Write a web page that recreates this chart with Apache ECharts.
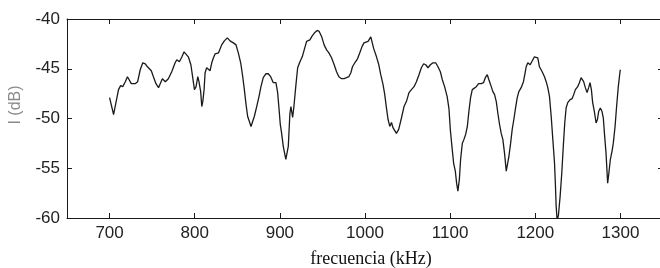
<!DOCTYPE html>
<html>
<head>
<meta charset="utf-8">
<script src="https://cdn.jsdelivr.net/npm/echarts@6/dist/echarts.min.js"></script>
<style>
  html, body { margin: 0; padding: 0; background: #fff; }
  #chart { width: 660px; height: 268px; }
</style>
</head>
<body>
<div id="chart"></div>
<script>
// frecuencia (kHz) y nivel (dB)
var freq = [
  700, 702, 704.7, 707, 710.5, 713, 715.5, 718.5, 721, 723, 725.5, 730, 733, 736, 739, 742, 744.5, 749,
  751.5, 754.5, 757.5, 760.5, 762, 765.5, 769, 773, 777, 779, 782, 785, 787.5, 789.5, 792.5, 795.5, 797.5,
  799.7, 801.6, 803.6, 805, 807, 808.3, 809.5, 811, 812.2, 814, 816, 818, 820, 822, 824, 826, 828, 830,
  831.7, 834.8, 838.3, 841.5, 845.4, 848.5, 851.2, 854, 856.4, 858.3, 860.3, 862.2, 864.2, 866.1, 868.1,
  870, 872.8, 875.5, 877.8, 880.5, 883.7, 886.4, 889.2, 892.3, 895.4, 897.4, 899, 900.5, 902.1, 904, 907,
  909.9, 911.8, 913, 915, 916.5, 918.9, 920.9, 923.6, 926.3, 928.6, 931.4, 933.3, 935.3, 938, 941.1, 943.8,
  946.2, 949, 952, 954.9, 957.6, 960.7, 963.8, 966.6, 969.3, 972.5, 975.5, 978.3, 981, 983.4, 985.3, 988,
  991.2, 993.9, 996.6, 998.8, 1001, 1003.6, 1006.8, 1008.8, 1010.3, 1013.5, 1016.2, 1018.5, 1021.2, 1023.2,
  1025.2, 1027.1, 1029.1, 1031.1, 1033, 1034.5, 1036.9, 1039.6, 1042.8, 1045.8, 1048.6, 1051.7, 1054.5,
  1057.6, 1060.4, 1063.4, 1066.2, 1068.9, 1071.3, 1074, 1076.8, 1079.8, 1083, 1085.7, 1088.5, 1090.8,
  1093.5, 1096.5, 1098.6, 1100.2, 1102.1, 1104.1, 1106.1, 1107.6, 1109.1, 1110.8, 1112.3, 1114.3, 1116.2,
  1118.2, 1120.2, 1122, 1124, 1126, 1127.9, 1130.7, 1133.4, 1136.5, 1139.2, 1141.3, 1143.6, 1145.5, 1147.5,
  1150.2, 1152.2, 1154.2, 1156, 1158, 1160, 1161.9, 1163.9, 1165.9, 1167, 1169, 1171, 1172.9, 1174.8,
  1176.8, 1178.8, 1180.7, 1183.4, 1186.1, 1188.1, 1189.3, 1191.2, 1194, 1196.5, 1199, 1201, 1202.9, 1204.9,
  1208.1, 1210.8, 1212.8, 1214.7, 1216.7, 1218.7, 1220.6, 1222.6, 1223.7, 1224.5, 1225.7, 1227.2, 1229.2,
  1231.1, 1233.1, 1234.6, 1236.2, 1238.1, 1240.9, 1243.3, 1245.1, 1247.1, 1249.8, 1251.8, 1253.8, 1254.9,
  1256.8, 1258.8, 1260.8, 1262.7, 1264.3, 1265.9, 1267.4, 1269.4, 1271.4, 1273, 1274.4, 1276.4, 1278.4,
  1279.9, 1281.5, 1283.1, 1285, 1286.2, 1288.2, 1290.1, 1291.6, 1293.7, 1295.5, 1297.5, 1299.5, 1300
];
var level = [
  -47.9, -47.9, -49.6, -49.7, -47.1, -46.7, -46.8, -46.3, -45.8, -46.0, -46.5, -46.5, -46.3, -45.1, -44.4, -44.5, -44.8, -45.2,
  -45.8, -46.5, -46.9, -46.3, -46.0, -46.3, -46.0, -45.3, -44.4, -44.1, -44.3, -43.8, -43.3, -43.3, -43.8, -44.6, -45.8,
  -47.1, -46.8, -45.8, -46.3, -47.3, -48.8, -48.3, -47.1, -45.4, -44.9, -44.9, -45.2, -44.4, -43.9, -43.5, -43.7, -43.4, -43.25,
  -42.6, -42.2, -41.9, -42.2, -42.4, -42.6, -43.4, -44.4, -45.8, -47.1, -48.6, -49.8, -50.3, -50.8, -50.6,
  -49.8, -48.8, -47.8, -46.8, -45.9, -45.5, -45.5, -45.8, -46.4, -46.4, -47.4, -49.0, -50.6, -51.5, -52.8, -54.1,
  -52.8, -49.5, -48.8, -49.9, -48.8, -46.6, -44.9, -44.3, -43.8, -43.1, -42.25, -42.25, -42.1, -41.7, -41.35, -41.15,
  -41.25, -41.75, -42.6, -43.1, -43.4, -43.9, -44.6, -45.3, -45.8, -46.0, -46.0, -45.9, -45.8, -45.4, -44.8, -44.4,
  -44.0, -43.4, -42.75, -42.4, -42.6, -42.25, -41.8, -42.0, -43.0, -43.8, -44.6, -45.6, -46.6, -47.6,
  -48.95, -50.1, -50.8, -50.4, -50.95, -50.8, -51.5, -51.1, -49.95, -48.8, -48.3, -47.4, -47.1,
  -46.8, -46.3, -45.6, -44.9, -44.5, -44.6, -44.9, -44.6, -44.4, -44.4, -44.8, -45.3, -46.1,
  -46.8, -47.8, -49.0, -51.1, -52.8, -54.5, -55.3, -56.5, -57.3, -56.15, -54.1, -52.5, -52.1,
  -51.6, -50.8, -49.3, -47.9, -47.1, -46.9, -46.8, -46.5, -46.5, -46.4, -45.9, -45.6, -46.1, -46.6,
  -47.3, -47.6, -48.3, -49.45, -50.6, -51.5, -52.1, -53.5, -55.3, -55.5, -53.8, -52.5, -51.1, -50.1,
  -48.95, -47.9, -47.3, -46.9, -46.3, -45.4, -44.8, -44.4, -44.6, -44.2, -43.8, -43.6, -43.9, -44.8,
  -45.3, -45.8, -46.3, -46.9, -47.8, -49.8, -52.1, -54.5, -56.8, -58.8, -60.3, -59.7, -57.8,
  -55.5, -52.5, -50.45, -48.95, -48.4, -48.1, -48.0, -47.6, -47.1, -46.8, -46.4, -45.9, -45.8,
  -46.3, -46.9, -47.4, -46.9, -46.4, -47.1, -48.4, -49.3, -50.45, -50.1, -49.3, -48.95, -49.3,
  -49.95, -51.8, -53.5, -56.5, -55.65, -54.1, -53.3, -52.5, -50.8, -48.8, -46.8, -45.3, -45.1
];
var xTicks = [700, 800, 900, 1000, 1100, 1200, 1300];

var chart = echarts.init(document.getElementById('chart'));

var lineColor = '#1a1a1a';
var plain = function (v) { return String(v); };

var option = {
  animation: false,
  backgroundColor: '#fff',
  grid: { left: 67, top: 19, right: -3, bottom: 50, outerBoundsMode: 'none' },
  xAxis: [
    {
      type: 'value', min: 650, max: 1350, position: 'bottom',
      axisLine: { show: true, onZero: false, lineStyle: { color: lineColor, width: 1 } },
      axisTick: { show: true, inside: true, length: 5, customValues: xTicks, lineStyle: { color: lineColor } },
      axisLabel: { margin: 7, customValues: xTicks, formatter: plain, fontFamily: 'Liberation Sans', fontSize: 17, color: '#222' },
      splitLine: { show: false },
      name: 'frecuencia (kHz)',
      nameLocation: 'middle',
      nameGap: 32,
      nameTextStyle: { fontFamily: 'Liberation Serif', fontSize: 18, color: '#111', padding: [0, 0, 0, 12] }
    },
    {
      type: 'value', min: 650, max: 1350, position: 'top',
      axisLine: { show: true, onZero: false, lineStyle: { color: lineColor, width: 1 } },
      axisTick: { show: true, inside: true, length: 5, customValues: xTicks, lineStyle: { color: lineColor } },
      axisLabel: { show: false },
      splitLine: { show: false }
    }
  ],
  yAxis: [
    {
      type: 'value', min: -60, max: -40, interval: 5, position: 'left',
      axisLine: { show: true, onZero: false, lineStyle: { color: lineColor, width: 1 } },
      axisTick: { show: true, inside: true, length: 5, lineStyle: { color: lineColor } },
      axisLabel: { margin: 7, formatter: plain, fontFamily: 'Liberation Sans', fontSize: 17, color: '#222' },
      splitLine: { show: false }
    },
    {
      type: 'value', min: -60, max: -40, interval: 5, position: 'right',
      axisLine: { show: true, onZero: false, lineStyle: { color: lineColor, width: 1 } },
      axisTick: { show: true, inside: true, length: 5, lineStyle: { color: lineColor } },
      axisLabel: { show: false },
      splitLine: { show: false }
    }
  ],
  graphic: [
    {
      type: 'text', x: 16, y: 105, rotation: Math.PI / 2,
      style: {
        text: 'I (dB)', fontFamily: 'Liberation Sans', fontSize: 16, fill: '#8a8a8a',
        align: 'center', verticalAlign: 'middle'
      }
    }
  ],
  series: [
    {
      type: 'line',
      data: freq.map(function (f, i) { return [f, level[i]]; }),
      showSymbol: false,
      smooth: false,
      clip: true,
      lineStyle: { color: '#1a1a1a', width: 1.3 }
    }
  ]
};
chart.setOption(option);
</script>
</body>
</html>
